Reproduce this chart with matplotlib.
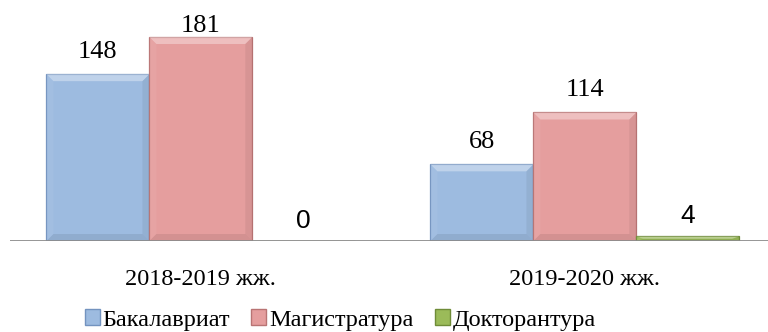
import numpy as np
import matplotlib.pyplot as plt
from matplotlib.patches import Patch, Polygon
from matplotlib.font_manager import FontProperties

# academic years and enrolment per programme level
years = ["2018-2019 жж.", "2019-2020 жж."]
levels = ["Бакалавриат", "Магистратура", "Докторантура"]
bachelor = [148, 68]
master = [181, 114]
doctor = [0, 4]

faces = ["#9dbbe0", "#e59e9e", "#9bbb59"]
edges = ["#7393bf", "#b97474", "#6f8c38"]
serif = FontProperties(family="Liberation Serif", size=19)
sans = FontProperties(family="Liberation Sans", size=19)
tick_font = FontProperties(family="Liberation Serif", size=17.5)
legend_font = FontProperties(family="Liberation Serif", size=17.5)

fig = plt.figure(figsize=(7.68, 3.32), dpi=100)
ax = fig.add_axes([10 / 768, 91 / 332, 758 / 768, 241 / 332])
ax.set_xlim(-0.497, 1.477)
ax.set_ylim(0, 213.8)

x = np.arange(len(years))
width = 0.268
series = [bachelor, master, doctor]

# pixel -> data scale, used for the bevel and the label offsets
px_x = 1.974 / 758
px_y = 213.8 / 241
pt = 72 / 100


def bevel(left, h, w):
    # light top, faint side and bottom shading, like an embossed bar
    bx = min(7 * px_x, w / 2)
    by = min(7 * px_y, h / 2)
    r = left + w
    shapes = [
        ([(left, h), (r, h), (r - bx, h - by), (left + bx, h - by)], "white", 0.35),
        ([(left, 0), (left, h), (left + bx, h - by), (left + bx, by)], "white", 0.06),
        ([(r, 0), (r, h), (r - bx, h - by), (r - bx, by)], "black", 0.06),
        ([(left, 0), (r, 0), (r - bx, by), (left + bx, by)], "black", 0.08),
    ]
    for pts, c, a in shapes:
        ax.add_patch(Polygon(pts, closed=True, facecolor=c, alpha=a,
                             linewidth=0, zorder=3))


for i, vals in enumerate(series):
    pos = x + (i - 1) * width
    ax.bar(pos, vals, width, color=faces[i], edgecolor=edges[i],
           linewidth=0.9, zorder=2)
    for p, v in zip(pos, vals):
        if v > 0:
            bevel(p - width / 2, v, width)
        if i == 2:
            ax.annotate(str(v), (p, v), xytext=(0, 13 * pt),
                        textcoords="offset points", ha="center",
                        va="baseline", fontproperties=sans)
        else:
            # keep the tallest labels from running off the top
            top_px = (213.8 - v) / px_y
            off = min(16, top_px - 32)
            ax.annotate(str(v), (p, v), xytext=(0, off * pt),
                        textcoords="offset points", ha="center",
                        va="baseline", fontproperties=serif)

ax.axhline(0, color="#8c8c8c", linewidth=2, zorder=4)

ax.set_xticks(x)
ax.set_xticklabels(years, fontproperties=tick_font)
ax.tick_params(axis="x", length=0, pad=20)
ax.set_yticks([])
for s in ax.spines.values():
    s.set_visible(False)

handles = [Patch(facecolor=faces[i], edgecolor=edges[i], label=levels[i])
           for i in range(3)]
leg = fig.legend(handles=handles, loc="center",
                 bbox_to_anchor=(0.443, 12 / 332), ncol=3, frameon=False,
                 prop=legend_font, handlelength=0.62, handleheight=0.62,
                 handletextpad=0.1, columnspacing=0.9, borderaxespad=0)
for t in leg.get_texts():
    t.set_fontproperties(legend_font)

fig.savefig("out.png", dpi=100)
